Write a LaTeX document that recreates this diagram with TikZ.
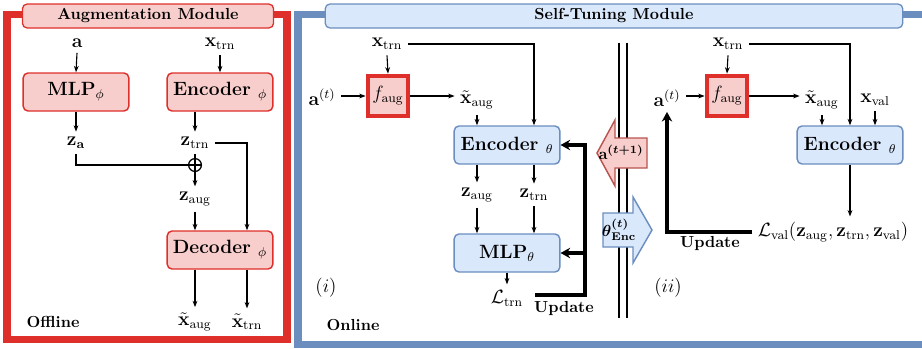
\documentclass[tikz,border=0pt]{standalone}
\usepackage{amsmath,amssymb}
\usetikzlibrary{arrows.meta, positioning, calc}
\definecolor{framered}{RGB}{222,47,42}
\definecolor{fillred}{RGB}{248,206,204}
\definecolor{darkred}{RGB}{184,84,80}
\definecolor{frameblue}{RGB}{108,142,191}
\definecolor{fillblue}{RGB}{218,232,252}

\begin{document}
\begin{tikzpicture}[x=0.625pt, y=-0.625pt,
        redbox/.style={draw=framered, fill=fillred, rounded corners=3pt, line width=0.9pt, minimum width=66pt, minimum height=23.75pt, font=\large\bfseries},
        bluebox/.style={draw=frameblue, fill=fillblue, rounded corners=3pt, line width=0.9pt, minimum width=66pt, minimum height=23.75pt, font=\large\bfseries},
        augbox/.style={draw=framered, fill=fillred, line width=2.5pt, minimum size=25.5pt, inner sep=0pt, font=\large},
        titlebox/.style={rounded corners=3pt, line width=0.8pt, minimum height=15pt, inner sep=0pt, font=\bfseries},
        arrow/.style={-{Stealth[length=4pt, width=3pt]}, line width=0.7pt},
        update/.style={-{Stealth[length=6pt, width=6.5pt]}, line width=2.6pt},
        label/.style={align=center, font=\large}
    ]
        \useasboundingbox (0,0) rectangle (922,348);
        \clip (0,0) rectangle (922,348);

        % Module frames
        \draw[framered, line width=4.4pt] (7,14.5) rectangle (287,339.5);
        \draw[frameblue, line width=4.4pt] (960,14.5) -- (298,14.5) -- (298,344.5) -- (960,344.5);
        \node[titlebox, draw=framered, fill=fillred, minimum width=157pt] (augTitle) at (148,16) {Augmentation Module};
        \node[titlebox, draw=frameblue, fill=fillblue, minimum width=361pt] (tuneTitle) at (614,16) {Self-Tuning Module};

        % Augmentation module (offline)
        \node[label] (aIn) at (77,43) {$\mathbf{a}$};
        \node[label] (xtrnA) at (220,44) {$\mathbf{x}_{\mathrm{trn}}$};
        \node[redbox] (mlpPhi) at (76,92) {MLP$_{\phi}$};
        \node[redbox] (encPhi) at (220,92) {Encoder $_{\phi}$};
        \node[label] (za) at (76,143) {$\mathbf{z}_{\mathbf{a}}$};
        \node[label] (ztrnA) at (195,143) {$\mathbf{z}_{\mathrm{trn}}$};
        \node[circle, draw, line width=0.8pt, minimum size=8pt, inner sep=0pt] (plus) at (195,165) {};
        \node[label] (zaugA) at (195,199) {$\mathbf{z}_{\mathrm{aug}}$};
        \node[redbox] (decPhi) at (220,250) {Decoder $_{\phi}$};
        \node[label] (outAug) at (195,322) {$\tilde{\mathbf{x}}_{\mathrm{aug}}$};
        \node[label] (outTrn) at (247,322) {$\tilde{\mathbf{x}}_{\mathrm{trn}}$};
        \node[label, font=\bfseries] (offline) at (53,322) {Offline};

        \draw[arrow] (aIn.south) -- (mlpPhi.north);
        \draw[arrow] (xtrnA.south) -- (encPhi.north);
        \draw[arrow] (mlpPhi.south) -- (za.north);
        \draw[arrow] (ztrnA |- encPhi.south) -- (ztrnA.north);
        \draw[line width=0.7pt] (plus.north) -- (plus.south) (plus.west) -- (plus.east);
        \draw[line width=0.7pt] (za.south) |- (plus.west);
        \draw[line width=0.7pt] (ztrnA.south) -- (plus.north);
        \draw[arrow] (ztrnA.east) -| (outTrn |- decPhi.north);
        \draw[arrow] (plus.south) -- (zaugA.north);
        \draw[arrow] (zaugA.south) -- (zaugA |- decPhi.north);
        \draw[arrow] (outAug |- decPhi.south) -- (outAug.north);
        \draw[arrow] (outTrn |- decPhi.south) -- (outTrn.north);

        % Self-tuning module, step (i)
        \node[label] (xtrn1) at (387,44) {$\mathbf{x}_{\mathrm{trn}}$};
        \node[augbox] (faug1) at (388,96) {$f_{\mathrm{aug}}$};
        \node[label] (at1) at (322,97) {$\mathbf{a}^{(t)}$};
        \node[label] (xaug1) at (477,100) {$\tilde{\mathbf{x}}_{\mathrm{aug}}$};
        \node[bluebox] (enc1) at (507,145) {Encoder $_{\theta}$};
        \node[label] (zaug1) at (477,195) {$\mathbf{z}_{\mathrm{aug}}$};
        \node[label] (ztrn1) at (534,195) {$\mathbf{z}_{\mathrm{trn}}$};
        \node[bluebox] (mlp1) at (507,253) {MLP$_{\theta}$};
        \node[label] (ltrn) at (507,298) {$\mathcal{L}_{\mathrm{trn}}$};
        \node[label] (step1) at (326,288) {$(i)$};
        \node[label, font=\bfseries] (online) at (353,325) {Online};
        \node[label, font=\bfseries] (upd1Label) at (564,308) {Update};

        \draw[arrow] (xtrn1.south) -- (faug1.north);
        \draw[arrow] (at1.east |- faug1.west) -- (faug1.west);
        \draw[arrow] (faug1.east) -- (faug1.east -| xaug1.west);
        \draw[arrow] (xtrn1.east) -| (ztrn1 |- enc1.north);
        \draw[arrow] (xaug1.south) -- (xaug1 |- enc1.north);
        \draw[arrow] (zaug1 |- enc1.south) -- (zaug1.north);
        \draw[arrow] (ztrn1 |- enc1.south) -- (ztrn1.north);
        \draw[arrow] (zaug1.south) -- (zaug1 |- mlp1.north);
        \draw[arrow] (ztrn1.south) -- (ztrn1 |- mlp1.north);
        \draw[arrow] (mlp1.south) -- (ltrn.north);

        % Update path of step (i)
        \coordinate (upd1) at (535,295);
        \coordinate (bend1) at (585,295);
        \draw[update] (upd1) -- (bend1) |- (enc1.east);
        \draw[update] (bend1 |- mlp1.east) -- (mlp1.east);

        % Divider and exchanged values
        \draw[line width=0.8pt] (619,43) -- (619,318);
        \draw[line width=0.8pt] (627,43) -- (627,318);
        \draw[darkred, fill=fillred, line width=0.9pt] (647,138) -- (615,138) -- (615,120) -- (597,153) -- (615,186) -- (615,168) -- (647,168) -- cycle;
        \node (aNext) at (621,152) {$\mathbf{a}^{\boldsymbol{(t+1)}}$};
        \draw[frameblue, fill=fillblue, line width=0.9pt] (603,213) -- (633,213) -- (633,197) -- (652,230) -- (633,263) -- (633,247) -- (603,247) -- cycle;
        \node (thetaEnc) at (619,230) {$\boldsymbol{\theta}^{\boldsymbol{(t)}}_{\textbf{Enc}}$};

        % Self-tuning module, step (ii)
        \node[label] (xtrn2) at (728,44) {$\mathbf{x}_{\mathrm{trn}}$};
        \node[augbox] (faug2) at (727,96) {$f_{\mathrm{aug}}$};
        \node[label] (at2) at (667,98) {$\mathbf{a}^{(t)}$};
        \node[label] (xaug2) at (822,100) {$\tilde{\mathbf{x}}_{\mathrm{aug}}$};
        \node[label] (xval2) at (875,100) {$\mathbf{x}_{\mathrm{val}}$};
        \node[bluebox] (enc2) at (850,145) {Encoder $_{\theta}$};
        \node[label] (lval) at (833,232) {$\mathcal{L}_{\mathrm{val}}(\mathbf{z}_{\mathrm{aug}},\mathbf{z}_{\mathrm{trn}},\mathbf{z}_{\mathrm{val}})$};
        \node[label] (step2) at (668,288) {$(ii)$};
        \node[label, font=\bfseries] (upd2Label) at (710,243) {Update};

        \draw[arrow] (xtrn2.south) -- (faug2.north);
        \draw[arrow] (at2.east |- faug2.west) -- (faug2.west);
        \draw[arrow] (faug2.east) -- (faug2.east -| xaug2.west);
        \draw[arrow] (xtrn2.east) -| (enc2.north);
        \draw[arrow] (xaug2.south) -- (xaug2 |- enc2.north);
        \draw[arrow] (xval2.south) -- (xval2 |- enc2.north);
        \draw[arrow] (enc2.south) -- (enc2 |- lval.north);

        % Update path of step (ii)
        \draw[update] (lval.west) -| (at2.south);

    \end{tikzpicture}
\end{document}
